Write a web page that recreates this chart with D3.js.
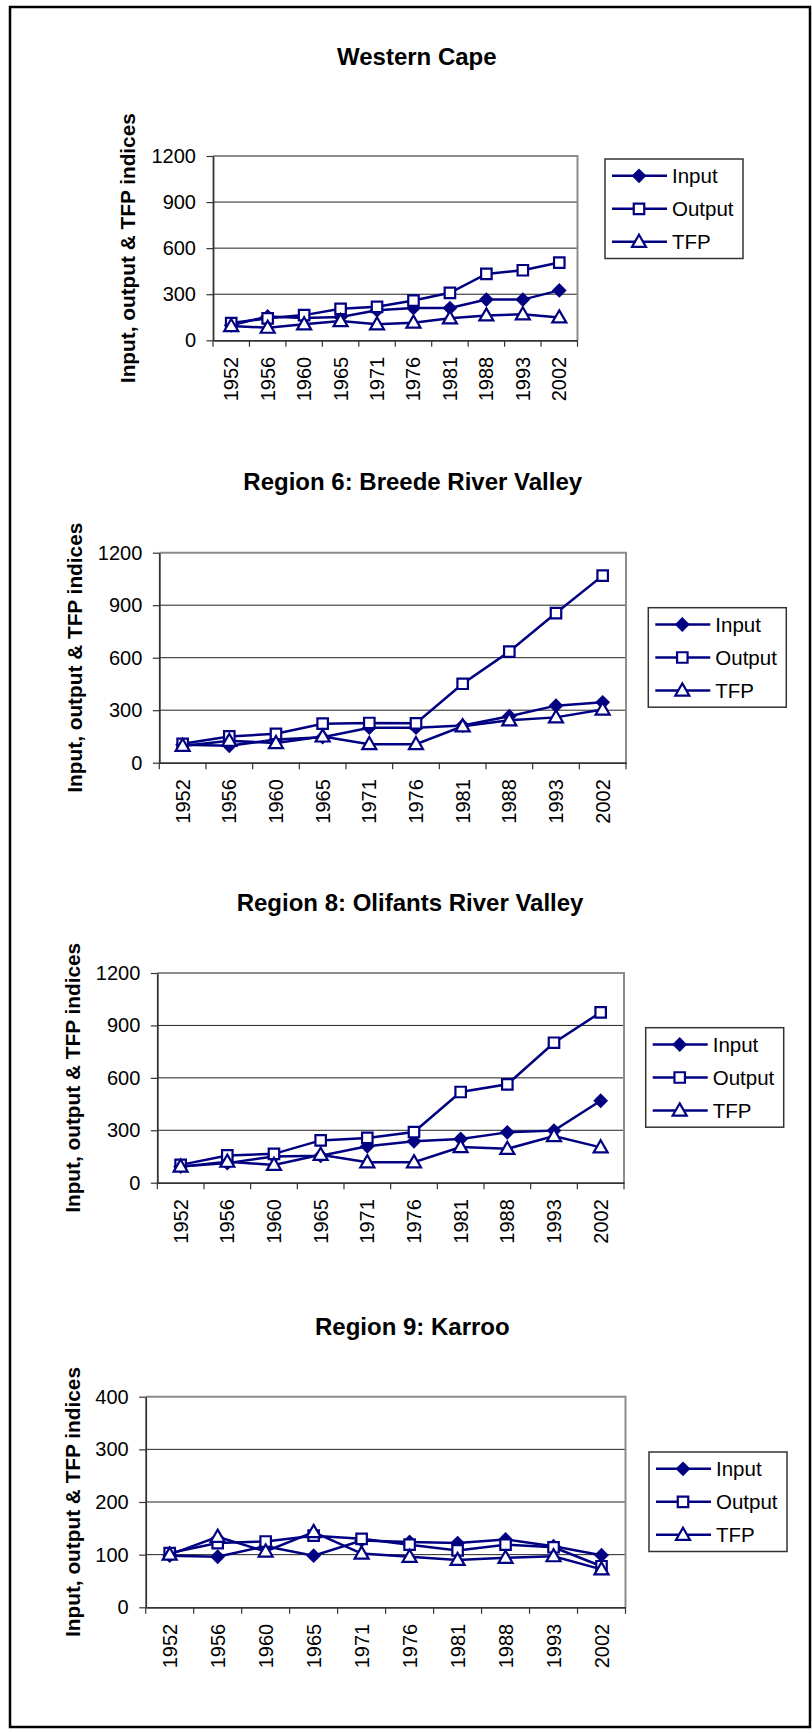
<!DOCTYPE html>
<html>
<head>
<meta charset="utf-8">
<script src="https://cdn.jsdelivr.net/npm/d3@7"></script>
<style>
  body { margin: 0; background: #fff; }
  svg { display: block; font-family: "Liberation Sans", Arial, sans-serif; }
</style>
</head>
<body>
<svg id="chart" width="812" height="1733"></svg>
<script>
// categories and series
const years = ['1952', '1956', '1960', '1965', '1971', '1976', '1981', '1988', '1993', '2002'];
const seriesNames = ['Input', 'Output', 'TFP'];

const wcInput = [98, 155, 145, 152, 195, 210, 210, 265, 265, 325];
const wcOutput = [112, 143, 164, 205, 218, 259, 309, 432, 456, 506];
const wcTfp = [93, 82, 104, 125, 104, 115, 143, 162, 169, 149];

const r6Input = [102, 97, 133, 146, 200, 200, 212, 266, 326, 345];
const r6Output = [108, 150, 165, 223, 227, 225, 451, 635, 855, 1069];
const r6Tfp = [96, 125, 112, 150, 106, 106, 208, 242, 259, 304];

const r8Input = [92, 112, 150, 154, 208, 237, 250, 288, 298, 469];
const r8Output = [102, 156, 165, 242, 256, 290, 519, 563, 801, 975];
const r8Tfp = [92, 120, 102, 160, 117, 117, 204, 194, 267, 202];

const r9Input = [98, 96, 116, 98, 127, 124, 122, 129, 116, 99];
const r9Output = [103, 122, 125, 136, 130, 119, 108, 119, 114, 78];
const r9Tfp = [100, 134, 106, 143, 102, 96, 90, 94, 97, 72];

const bigTicks = [0, 300, 600, 900, 1200];
const smallTicks = [0, 100, 200, 300, 400];

const yTitle = 'Input, output & TFP indices';
const navy = '#000080';

const svg = d3.select('#chart');

// page frame
svg.append('rect')
  .attr('x', 10).attr('y', 7)
  .attr('width', 800).attr('height', 1720)
  .attr('fill', 'none')
  .attr('stroke', '#000')
  .attr('stroke-width', 2.5);

const charts = [
  { title: 'Western Cape', titleX: 337, titleY: 65, left: 213, right: 577.5, top: 156, bottom: 340.3,
    ticks: bigTicks, labelX: 135, legendX: 605, legendY: 159, series: [wcInput, wcOutput, wcTfp] },
  { title: 'Region 6: Breede River Valley', titleX: 243.3, titleY: 490, left: 159.3, right: 626, top: 552.7, bottom: 762.7,
    ticks: bigTicks, labelX: 81.7, legendX: 648.3, legendY: 607.7, series: [r6Input, r6Output, r6Tfp] },
  { title: 'Region 8: Olifants River Valley', titleX: 236.7, titleY: 910.7, left: 157.3, right: 624, top: 973, bottom: 1182.7,
    ticks: bigTicks, labelX: 80, legendX: 645.7, legendY: 1027.7, series: [r8Input, r8Output, r8Tfp] },
  { title: 'Region 9: Karroo', titleX: 315, titleY: 1335, left: 145.7, right: 625.5, top: 1396.7, bottom: 1607.3,
    ticks: smallTicks, labelX: 80, legendX: 649, legendY: 1452, series: [r9Input, r9Output, r9Tfp] },
];

function marker(g, i) {
  // 0 diamond (filled), 1 square (open), 2 triangle (open)
  if (i === 0) {
    g.append('path')
      .attr('d', d3.symbol(d3.symbolSquare, 110)())
      .attr('transform', 'rotate(45)')
      .attr('fill', navy);
  } else if (i === 1) {
    g.append('path')
      .attr('d', d3.symbol(d3.symbolSquare, 110)())
      .attr('fill', '#fff')
      .attr('stroke', navy)
      .attr('stroke-width', 2.2);
  } else {
    g.append('path')
      .attr('d', d3.symbol(d3.symbolTriangle, 85)())
      .attr('transform', 'translate(0,1)')
      .attr('fill', '#fff')
      .attr('stroke', navy)
      .attr('stroke-width', 2.2);
  }
}

function drawChart(c) {
  const g = svg.append('g');
  const x = d3.scaleBand().domain(years).range([c.left, c.right]);
  const y = d3.scaleLinear().domain([0, d3.max(c.ticks)]).range([c.bottom, c.top]);
  const cx = d => x(d) + x.bandwidth() / 2;

  // title
  g.append('text')
    .attr('x', c.titleX).attr('y', c.titleY)
    .attr('font-size', 24).attr('font-weight', 'bold')
    .text(c.title);

  // gridlines
  g.selectAll('line.grid')
    .data(c.ticks.slice(1, -1))
    .join('line')
    .attr('x1', c.left).attr('x2', c.right)
    .attr('y1', d => y(d)).attr('y2', d => y(d))
    .attr('stroke', '#222').attr('stroke-width', 1);

  // plot border top / right
  g.append('path')
    .attr('d', `M${c.left},${c.top}H${c.right}V${c.bottom}`)
    .attr('fill', 'none').attr('stroke', '#8c8c8c').attr('stroke-width', 2);

  // y axis
  const ya = g.append('g')
    .attr('transform', `translate(${c.left},0)`)
    .call(d3.axisLeft(y).tickValues(c.ticks).tickFormat(d3.format('d'))
      .tickSize(6.5).tickPadding(10.5).tickSizeOuter(0));
  ya.select('.domain').attr('stroke', '#333').attr('stroke-width', 1.8);
  ya.selectAll('.tick line').attr('stroke', '#333').attr('stroke-width', 1.2);
  ya.selectAll('.tick text').attr('font-size', 20).attr('font-family', null).attr('fill', '#000');

  // x axis: boundary ticks + rotated labels
  const xa = g.append('g')
    .attr('transform', `translate(0,${c.bottom})`)
    .call(d3.axisBottom(x).tickSize(0).tickSizeOuter(0).tickPadding(16.5));
  xa.select('.domain').attr('stroke', '#333').attr('stroke-width', 1.8);
  xa.selectAll('.tick text')
    .attr('font-size', 20).attr('font-family', null).attr('fill', '#000')
    .attr('text-anchor', 'end')
    .attr('transform', 'rotate(-90)')
    .attr('x', -16.5).attr('y', 0).attr('dy', '0.35em');
  const bounds = years.map(d => x(d)).concat([c.right]);
  xa.selectAll('line.bound')
    .data(bounds)
    .join('line')
    .attr('x1', d => d).attr('x2', d => d)
    .attr('y1', 0).attr('y2', 6.5)
    .attr('stroke', '#333').attr('stroke-width', 1.2);

  // y title
  g.append('text')
    .attr('transform', `translate(${c.labelX},${(c.top + c.bottom) / 2}) rotate(-90)`)
    .attr('text-anchor', 'middle')
    .attr('font-size', 20.8).attr('font-weight', 'bold')
    .text(yTitle);

  // series
  const line = d3.line().x((d, i) => cx(years[i])).y(d => y(d));
  c.series.forEach((vals, si) => {
    g.append('path')
      .attr('d', line(vals))
      .attr('fill', 'none').attr('stroke', navy).attr('stroke-width', 2.5);
    vals.forEach((v, i) => {
      const m = g.append('g').attr('transform', `translate(${cx(years[i])},${y(v)})`);
      marker(m, si);
    });
  });

  // legend
  const lg = g.append('g').attr('transform', `translate(${c.legendX},${c.legendY})`);
  lg.append('rect')
    .attr('width', 138).attr('height', 99.5)
    .attr('fill', '#fff').attr('stroke', '#333').attr('stroke-width', 1.5);
  seriesNames.forEach((name, i) => {
    const ry = 16.8 + i * 33;
    lg.append('line')
      .attr('x1', 7).attr('x2', 62).attr('y1', ry).attr('y2', ry)
      .attr('stroke', navy).attr('stroke-width', 2.5);
    marker(lg.append('g').attr('transform', `translate(34,${ry})`), i);
    lg.append('text')
      .attr('x', 67).attr('y', ry).attr('dy', '0.35em')
      .attr('font-size', 20.5)
      .text(name);
  });
}

charts.forEach(drawChart);
</script>
</body>
</html>
